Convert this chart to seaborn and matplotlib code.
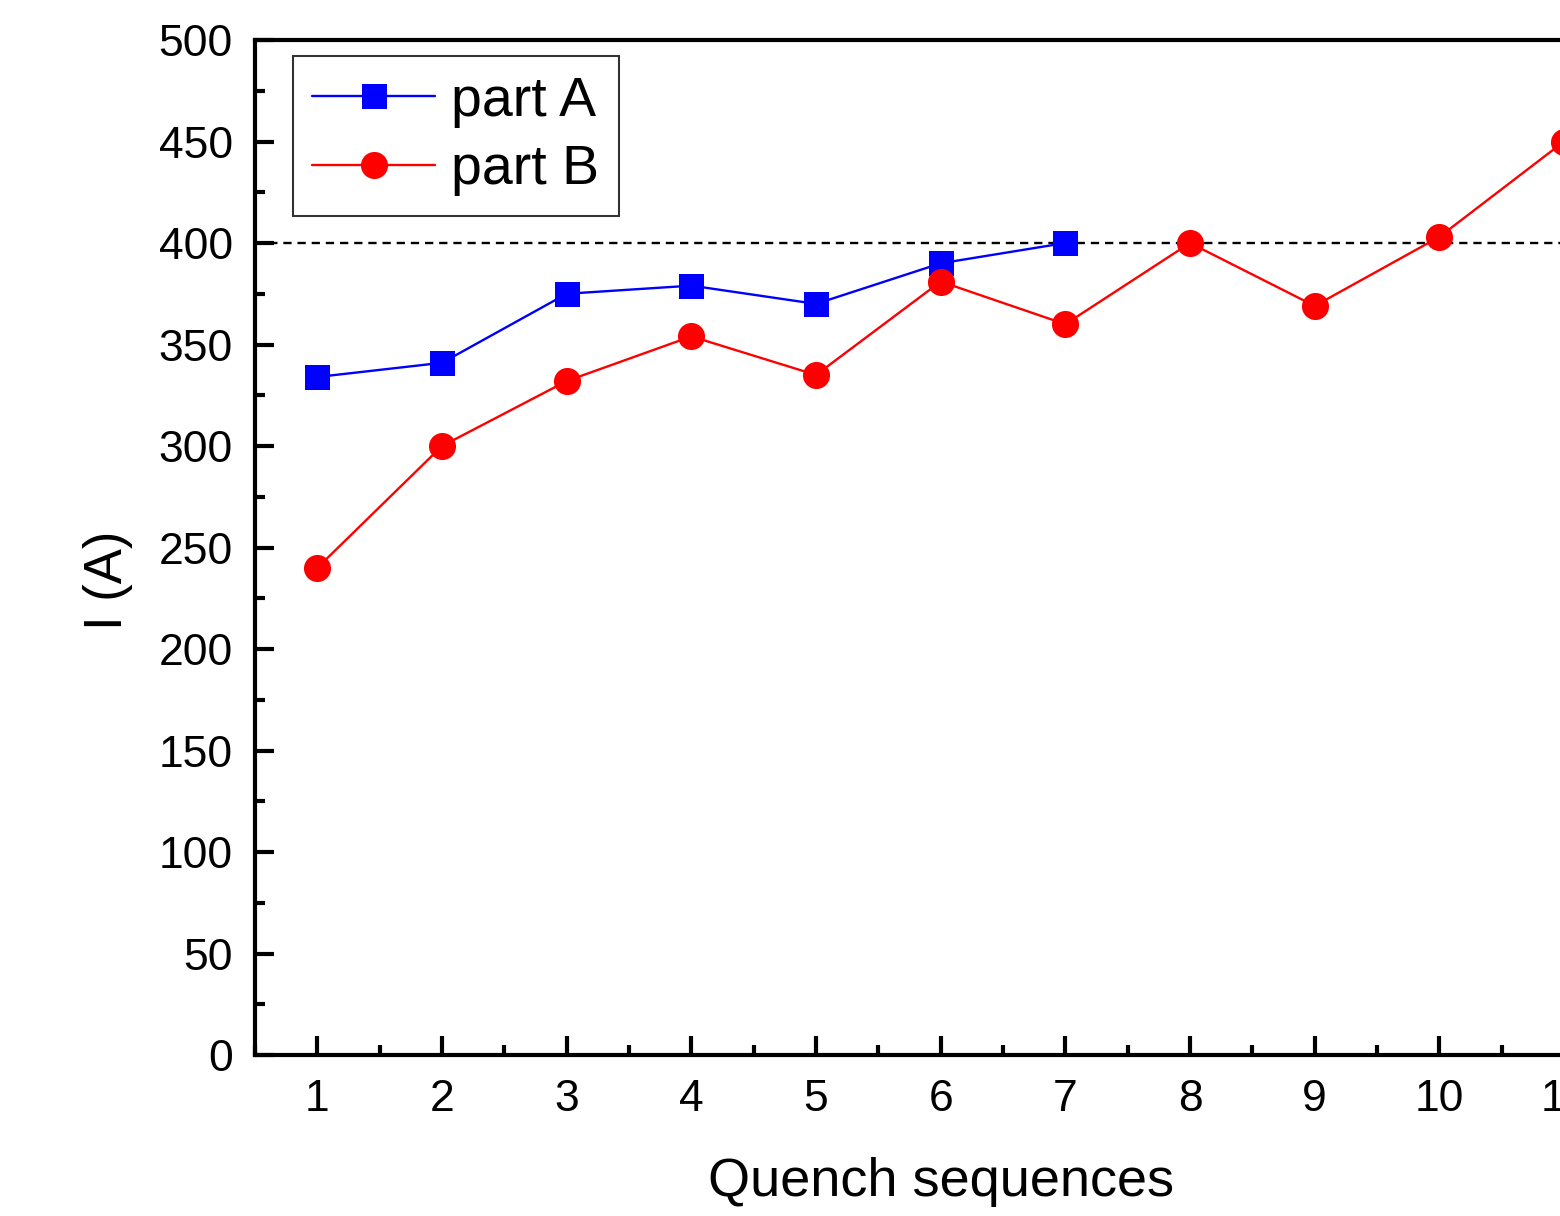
import pandas as pd
import seaborn as sns
import matplotlib.pyplot as plt
from matplotlib.ticker import MultipleLocator

sns.set_theme(style="ticks")
plt.rcParams['font.family'] = ['Liberation Sans', 'DejaVu Sans']
plt.rcParams.update({'text.color': 'black', 'axes.labelcolor': 'black',
                     'xtick.color': 'black', 'ytick.color': 'black',
                     'axes.edgecolor': 'black'})

seq_a = [1, 2, 3, 4, 5, 6, 7]
current_a = [334, 341, 375, 379, 370, 390, 400]
seq_b = [1, 2, 3, 4, 5, 6, 7, 8, 9, 10, 11]
current_b = [240, 300, 332, 354, 335, 381, 360, 400, 369, 403, 450]
limit = 400

df = pd.concat([
    pd.DataFrame({'seq': seq_a, 'I': current_a, 'part': 'part A'}),
    pd.DataFrame({'seq': seq_b, 'I': current_b, 'part': 'part B'}),
])

fig = plt.figure(figsize=(15.6, 12.16), dpi=100)
ax = fig.add_axes([0.1635, 0.1324, 0.879, 0.8347])

ax.axhline(limit, color='black', lw=1.7, ls=(0, (3.5, 2.5)), zorder=1)
sns.lineplot(data=df, x='seq', y='I', hue='part', style='part',
             palette={'part A': '#0000ff', 'part B': '#ff0000'},
             markers={'part A': 's', 'part B': 'o'}, dashes=False,
             markersize=18, markeredgewidth=0, lw=1.7, ax=ax, zorder=3)
# circles look a bit larger than squares in the reference
for ln in ax.lines[1:]:
    if ln.get_marker() == 'o':
        ln.set_markersize(19.5)

ax.set_xlim(0.5, 11.5)
ax.set_ylim(0, 500)
ax.xaxis.set_major_locator(MultipleLocator(1))
ax.xaxis.set_minor_locator(MultipleLocator(0.5))
ax.yaxis.set_major_locator(MultipleLocator(50))
ax.yaxis.set_minor_locator(MultipleLocator(25))
ax.tick_params(which='major', direction='in', length=14, width=3, labelsize=32)
ax.tick_params(which='minor', direction='in', length=7, width=3)
ax.tick_params(axis='x', which='major', pad=17)
ax.tick_params(axis='y', which='major', pad=16)
ax.tick_params(axis='x', top=False)
for s in ax.spines.values():
    s.set_linewidth(3)
ax.spines['right'].set_visible(False)

ax.set_xlabel('Quench sequences', fontsize=39)
ax.set_ylabel('I (A)', fontsize=38)
ax.xaxis.set_label_coords(0.5, -0.1)
ax.yaxis.set_label_coords(-0.089, 0.468)

handles, labels = ax.get_legend_handles_labels()
leg = ax.legend(handles, labels, loc='upper left', bbox_to_anchor=(0.0277, 0.984),
                borderaxespad=0, fontsize=40, frameon=True, fancybox=False,
                edgecolor='black', handlelength=2.2, borderpad=0.35,
                labelspacing=0.3, handletextpad=0.3)
leg.get_frame().set_linewidth(1.5)

fig.savefig('out.png', dpi=100)
